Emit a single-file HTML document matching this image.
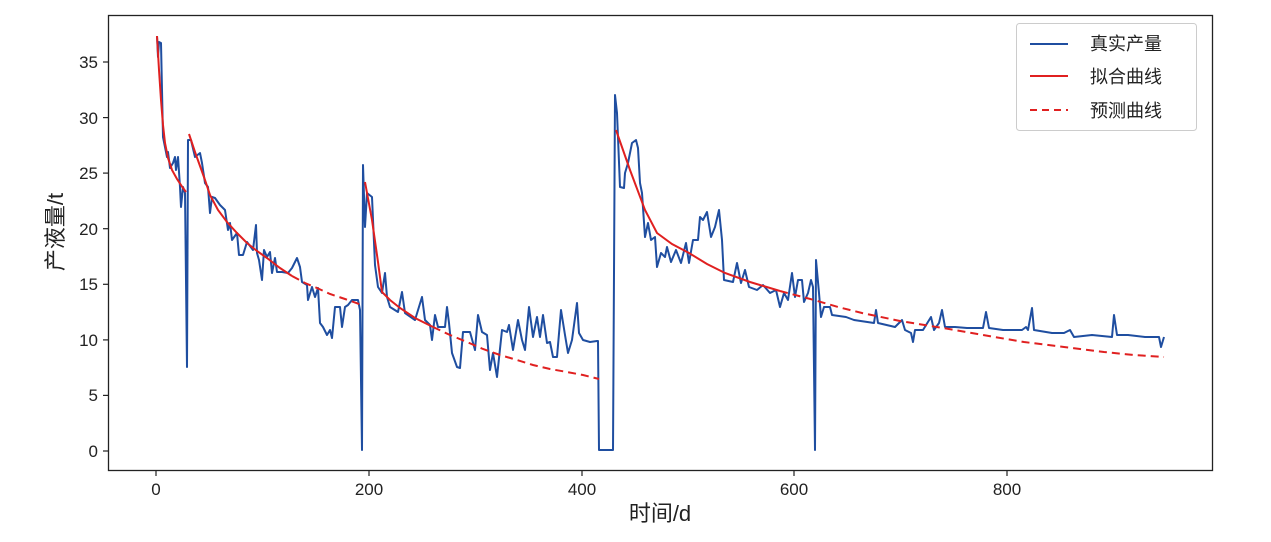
<!DOCTYPE html>
<html><head><meta charset="utf-8"><style>
body{margin:0;background:#fff}
svg{display:block}
text{font-family:"Liberation Sans","Noto Sans CJK SC",sans-serif;fill:#222}
</style></head><body>
<svg width="1271" height="542" viewBox="0 0 1271 542">
<rect x="0" y="0" width="1271" height="542" fill="#fff"/>
<!-- blue real data -->
<polyline fill="none" stroke="#1f4ea0" stroke-width="2" stroke-linejoin="round" points="
157,36 158,57 159,42 161,43 163,137 167,157 168,152 170,168 173,163 175,157 176,170 178,157 180,187 181,207 183,187 185,193 187,367 188,140 191,140 195,157 200,153 202,163 205,183 208,187 210,213 212,197 215,198 220,205 225,210 228,230 230,223 232,240 237,233 239,255 243,255 247,242 253,250 256,225 257,253 259,260 262,280 264,250 267,257 270,252 272,273 275,258 277,272 282,272 288,273 292,268 297,258 300,267 302,282 307,285 308,300 312,287 315,297 318,288 320,323 323,327 327,335 330,330 332,338 335,307 340,307 342,327 345,307 348,305 352,300 358,300 360,310 362,450 363,165 365,227 367,193 372,197 375,265 378,287 382,293 385,273 387,297 390,307 398,312 402,292 405,313 415,320 422,297 425,320 430,325 432,340 435,315 438,327 445,327 447,307 449,323 452,353 457,367 460,368 463,332 470,332 475,350 478,315 482,332 487,335 490,370 493,353 497,377 502,330 507,332 509,325 513,350 518,320 522,340 525,350 529,307 533,337 537,317 540,337 543,315 547,343 550,342 553,357 557,357 561,310 565,335 568,353 572,340 577,303 579,333 583,340 590,342 597,341
598,341 599,450 613,450 615,95 617,113 620,187 624,188 625,173 628,163 632,143 636,140 638,148 640,183 642,193 645,237 648,223 651,240 655,237 657,267 661,253 665,257 667,247 671,262 676,250 681,263 686,243 689,263 693,240 698,240 700,217 703,220 707,212 711,237 715,227 719,210 722,240 724,280 733,282 737,263 741,283 745,270 749,287 757,290 763,285 770,293 776,290 780,307 784,293 788,300 792,273 795,297 798,280 802,280 804,302 808,293 811,280 813,287 815,450 816,260 819,293 821,317 824,307 830,307 832,315 846,317 854,320 874,323 876,310 878,323 895,327 902,320 905,330 911,333 913,342 915,330 923,330 931,317 934,330 939,323 942,310 945,327 955,327 967,328 983,328 986,312 989,328 1003,330 1022,330 1026,327 1028,330 1032,308 1034,330 1052,333 1064,333 1070,330 1074,337 1092,335 1112,337 1114,315 1117,335 1128,335 1145,337 1159,337 1161,347 1164,337"/>
<!-- red fits -->
<g fill="none" stroke="#e02020" stroke-width="2">
<polyline points="157,36 159,70 161,100 163,125 165,143 168,158 172,170 177,179 183,188 186,192"/>
<polyline points="189,134 195,152 200,166 205,180 210,195 218,210 227,222 237,233 247,243 257,251 267,258 280,268 292,276"/>
<polyline stroke-dasharray="8,5" points="292,276 305,283 317,288 330,294 345,299 362,305"/>
<polyline points="365,182 372,220 378,262 382,292 390,300 400,308 415,318 433,327"/>
<polyline stroke-dasharray="8,5" points="433,327 450,335 467,342 483,349 500,355 517,360 533,365 550,369 567,372 583,375 599,379"/>
<polyline points="616,130 630,170 645,210 657,233 672,244 689,253 707,264 725,273 750,282 780,291"/>
<polyline stroke-dasharray="8,5" points="780,291 814,300 838,307 862,313 900,321 943,328 983,335 1024,342 1064,347 1104,352 1134,355 1164,357"/>
</g>
<!-- axes frame -->
<rect x="108.5" y="15.5" width="1104" height="455" fill="none" stroke="#222" stroke-width="1.3"/>
<!-- y ticks -->
<g stroke="#222" stroke-width="1.2">
<line x1="103" y1="451" x2="108" y2="451"/><line x1="103" y1="395.4" x2="108" y2="395.4"/>
<line x1="103" y1="339.9" x2="108" y2="339.9"/><line x1="103" y1="284.3" x2="108" y2="284.3"/>
<line x1="103" y1="228.7" x2="108" y2="228.7"/><line x1="103" y1="173.1" x2="108" y2="173.1"/>
<line x1="103" y1="117.6" x2="108" y2="117.6"/><line x1="103" y1="62" x2="108" y2="62"/>
<line x1="156" y1="471" x2="156" y2="476"/><line x1="369" y1="471" x2="369" y2="476"/>
<line x1="582" y1="471" x2="582" y2="476"/><line x1="794" y1="471" x2="794" y2="476"/>
<line x1="1007" y1="471" x2="1007" y2="476"/>
</g>
<g font-size="17" text-anchor="end">
<text x="98" y="457">0</text><text x="98" y="401">5</text><text x="98" y="346">10</text>
<text x="98" y="290">15</text><text x="98" y="235">20</text><text x="98" y="179">25</text>
<text x="98" y="124">30</text><text x="98" y="68">35</text>
</g>
<g font-size="17" text-anchor="middle">
<text x="156" y="495">0</text><text x="369" y="495">200</text><text x="582" y="495">400</text>
<text x="794" y="495">600</text><text x="1007" y="495">800</text>
</g>
<text x="660" y="521" font-size="22" text-anchor="middle">时间/d</text>
<text transform="translate(63,232) rotate(-90)" font-size="22" text-anchor="middle">产液量/t</text>
<!-- legend -->
<rect x="1016.5" y="23.5" width="180" height="107" rx="3" fill="#fff" stroke="#ccc" stroke-width="1"/>
<line x1="1030" y1="44" x2="1068" y2="44" stroke="#1f4ea0" stroke-width="2"/>
<line x1="1030" y1="76" x2="1068" y2="76" stroke="#e02020" stroke-width="2"/>
<line x1="1030" y1="110" x2="1068" y2="110" stroke="#e02020" stroke-width="2" stroke-dasharray="7,5"/>
<g font-size="18">
<text x="1090" y="50">真实产量</text>
<text x="1090" y="83">拟合曲线</text>
<text x="1090" y="117">预测曲线</text>
</g>
</svg>
</body></html>
